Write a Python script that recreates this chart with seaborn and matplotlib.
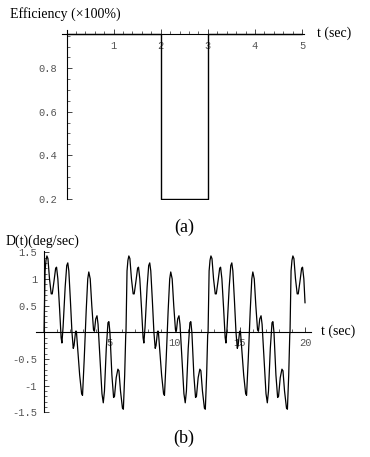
import matplotlib
matplotlib.use("Agg")
import matplotlib.pyplot as plt
import matplotlib.ticker as mticker
import seaborn as sns
import numpy as np

# ---------------- data ----------------
# (a) efficiency step
eff_t = [0, 2, 2, 3, 3, 5]
eff_v = [0.96, 0.96, 0.2, 0.2, 0.96, 0.96]
eff_xticks = [1, 2, 3, 4, 5]
eff_yticks = [0.2, 0.4, 0.6, 0.8]

# (b) D(t), period by period
t_p1 = [0.00, 0.08, 0.15, 0.22, 0.30, 0.42, 0.55, 0.63, 0.76, 0.89, 0.96, 1.06, 1.19, 1.31, 1.37,
        1.46, 1.62, 1.74, 1.82, 1.90, 2.02, 2.14, 2.24, 2.30, 2.42, 2.48, 2.58, 2.73, 2.88, 2.95,
        3.08, 3.23, 3.35, 3.43, 3.54, 3.66, 3.79, 3.86, 3.96, 4.06, 4.14, 4.29, 4.44, 4.54, 4.63,
        4.77, 4.90, 4.97, 5.05, 5.20, 5.33, 5.40, 5.53, 5.66, 5.74, 5.86, 6.01, 6.08, 6.18, 6.26]
d_p1 = [0.0, 1.15, 1.35, 1.43, 1.38, 1.0, 0.72, 0.72, 0.95, 1.2, 1.22, 1.0, 0.45, -0.1, -0.2,
        0.1, 0.85, 1.25, 1.3, 1.15, 0.6, 0.0, -0.3, -0.25, 0.02, 0.02, -0.3, -0.8, -1.15, -1.18,
        -0.5, 0.4, 1.0, 1.13, 1.0, 0.5, 0.05, 0.02, 0.25, 0.31, 0.15, -0.5, -1.15, -1.32, -1.1,
        -0.3, 0.18, 0.2, 0.0, -0.8, -1.22, -1.2, -0.85, -0.69, -0.72, -1.1, -1.42, -1.44, -0.8, -0.05]

t_p2 = [6.28, 6.36, 6.43, 6.50, 6.58, 6.70, 6.83, 6.91, 7.04, 7.17, 7.24, 7.34, 7.47, 7.59, 7.65,
        7.74, 7.90, 8.02, 8.10, 8.18, 8.30, 8.42, 8.52, 8.58, 8.70, 8.76, 8.86, 9.01, 9.16, 9.23,
        9.36, 9.51, 9.63, 9.71, 9.82, 9.94, 10.07, 10.14, 10.24, 10.34, 10.42, 10.57, 10.72, 10.82, 10.91,
        11.05, 11.18, 11.25, 11.33, 11.48, 11.61, 11.68, 11.81, 11.94, 12.02, 12.14, 12.29, 12.36, 12.46, 12.54]
d_p2 = [0.0, 1.15, 1.35, 1.43, 1.38, 1.0, 0.72, 0.72, 0.95, 1.2, 1.22, 1.0, 0.45, -0.1, -0.2,
        0.1, 0.85, 1.25, 1.3, 1.15, 0.6, 0.0, -0.3, -0.25, 0.02, 0.02, -0.3, -0.8, -1.15, -1.18,
        -0.5, 0.4, 1.0, 1.13, 1.0, 0.5, 0.05, 0.02, 0.25, 0.31, 0.15, -0.5, -1.15, -1.32, -1.1,
        -0.3, 0.18, 0.2, 0.0, -0.8, -1.22, -1.2, -0.85, -0.69, -0.72, -1.1, -1.42, -1.44, -0.8, -0.05]

t_p3 = [12.57, 12.65, 12.72, 12.79, 12.87, 12.99, 13.12, 13.20, 13.33, 13.46, 13.53, 13.63, 13.76, 13.88, 13.94,
        14.03, 14.19, 14.31, 14.39, 14.47, 14.59, 14.71, 14.81, 14.87, 14.99, 15.05, 15.15, 15.30, 15.45, 15.52,
        15.65, 15.80, 15.92, 16.00, 16.11, 16.23, 16.36, 16.43, 16.53, 16.63, 16.71, 16.86, 17.01, 17.11, 17.20,
        17.34, 17.47, 17.54, 17.62, 17.77, 17.90, 17.97, 18.10, 18.23, 18.31, 18.43, 18.58, 18.65, 18.75, 18.83]
d_p3 = [0.0, 1.15, 1.35, 1.43, 1.38, 1.0, 0.72, 0.72, 0.95, 1.2, 1.22, 1.0, 0.45, -0.1, -0.2,
        0.1, 0.85, 1.25, 1.3, 1.15, 0.6, 0.0, -0.3, -0.25, 0.02, 0.02, -0.3, -0.8, -1.15, -1.18,
        -0.5, 0.4, 1.0, 1.13, 1.0, 0.5, 0.05, 0.02, 0.25, 0.31, 0.15, -0.5, -1.15, -1.32, -1.1,
        -0.3, 0.18, 0.2, 0.0, -0.8, -1.22, -1.2, -0.85, -0.69, -0.72, -1.1, -1.42, -1.44, -0.8, -0.05]

t_p4 = [18.85, 18.93, 19.00, 19.07, 19.15, 19.27, 19.40, 19.48, 19.61, 19.74, 19.81, 19.91, 20.00]
d_p4 = [0.0, 1.15, 1.35, 1.43, 1.38, 1.0, 0.72, 0.72, 0.95, 1.2, 1.22, 1.0, 0.55]

d_xticks = [5, 10, 15, 20]
d_yticks = [-1.5, -1, -0.5, 0.5, 1, 1.5]
d_ylabels = ["-1.5", "-1", "-0.5", "0.5", "1", "1.5"]

# ---------------- style ----------------
sns.set_style("white")
plt.rcParams['font.family'] = ['Liberation Serif', 'DejaVu Serif']

W, H = 370, 457
fig = plt.figure(figsize=(W / 100, H / 100), dpi=100)


def px_axes(left, top, right, bottom):
    return fig.add_axes([left / W, 1 - bottom / H, (right - left) / W, (bottom - top) / H])


TICKFONT = dict(family='Liberation Mono', size=7.5)
TICKCOL = '#555555'


def style_axes(ax, xpos):
    for s in ('top', 'right'):
        ax.spines[s].set_visible(False)
    ax.spines['left'].set_position(('data', 0))
    ax.spines['bottom'].set_position(('data', xpos))
    for s in ('left', 'bottom'):
        ax.spines[s].set_color('black')
        ax.spines[s].set_linewidth(0.8)
    ax.set_xlabel('')
    ax.set_ylabel('')
    ax.patch.set_alpha(0)


# ---------------- (a) ----------------
ax1 = px_axes(61.8, 30.3, 304.4, 199.6)
sns.lineplot(x=eff_t, y=eff_v, sort=False, estimator=None, color='black', lw=1.0, ax=ax1)
ax1.set_xlim(-0.1, 5.05)
ax1.set_ylim(0.195, 0.975)
style_axes(ax1, 0.96)
ax1.spines['left'].set_bounds(0.2, 0.975)
ax1.set_xticks(eff_xticks)
ax1.set_xticklabels([str(v) for v in eff_xticks], fontdict=TICKFONT, color=TICKCOL)
ax1.set_yticks(eff_yticks)
ax1.set_yticklabels([f"{v:.1f}" for v in eff_yticks], fontdict=TICKFONT, color=TICKCOL)
ax1.xaxis.set_minor_locator(mticker.MultipleLocator(0.2))
ax1.yaxis.set_minor_locator(mticker.MultipleLocator(0.05))
ax1.tick_params(axis='x', which='major', direction='in', length=3.5, width=0.6, pad=5, bottom=True)
ax1.tick_params(axis='x', which='minor', direction='in', length=2, width=0.5, bottom=True)
ax1.tick_params(axis='y', which='major', direction='in', length=3.5, width=0.6, pad=7, left=True)
ax1.tick_params(axis='y', which='minor', direction='in', length=2, width=0.5, left=True)

# ---------------- (b) ----------------
t_all = t_p1 + t_p2 + t_p3 + t_p4
d_all = d_p1 + d_p2 + d_p3 + d_p4
ax2 = px_axes(36.2, 250.6, 310.9, 412.7)
sns.lineplot(x=t_all, y=d_all, sort=False, estimator=None, color='black', lw=0.9, ax=ax2)
ax2.set_xlim(-0.6, 20.45)
ax2.set_ylim(-1.505, 1.53)
style_axes(ax2, 0)
ax2.spines['left'].set_bounds(-1.5, 1.53)
ax2.set_xticks(d_xticks)
ax2.set_xticklabels([str(v) for v in d_xticks], fontdict=TICKFONT, color=TICKCOL)
ax2.set_yticks(d_yticks)
ax2.set_yticklabels(d_ylabels, fontdict=TICKFONT, color=TICKCOL)
ax2.xaxis.set_minor_locator(mticker.MultipleLocator(1))
ax2.yaxis.set_minor_locator(mticker.MultipleLocator(0.1))
ax2.tick_params(axis='x', which='major', direction='in', length=3.5, width=0.6, pad=4, bottom=True)
ax2.tick_params(axis='x', which='minor', direction='in', length=2, width=0.5, bottom=True)
ax2.tick_params(axis='y', which='major', direction='in', length=3.5, width=0.6, pad=5, left=True)
ax2.tick_params(axis='y', which='minor', direction='in', length=2, width=0.5, left=True)

# ---------------- texts ----------------
def ftext(x, y, s, size, ha='left'):
    fig.text(x / W, 1 - y / H, s, fontsize=size, ha=ha, va='center',
             family=['Liberation Serif', 'DejaVu Serif'], color='black')


ftext(10, 14, "Efficiency (×100%)", 10)
ftext(317, 33, "t (sec)", 10)
ftext(184, 227, "(a)", 13, ha='center')
ftext(6, 241, "D(t)(deg/sec)", 10)
ftext(321, 331, "t (sec)", 10)
ftext(184, 438, "(b)", 13, ha='center')

fig.savefig("out.png", dpi=100)
